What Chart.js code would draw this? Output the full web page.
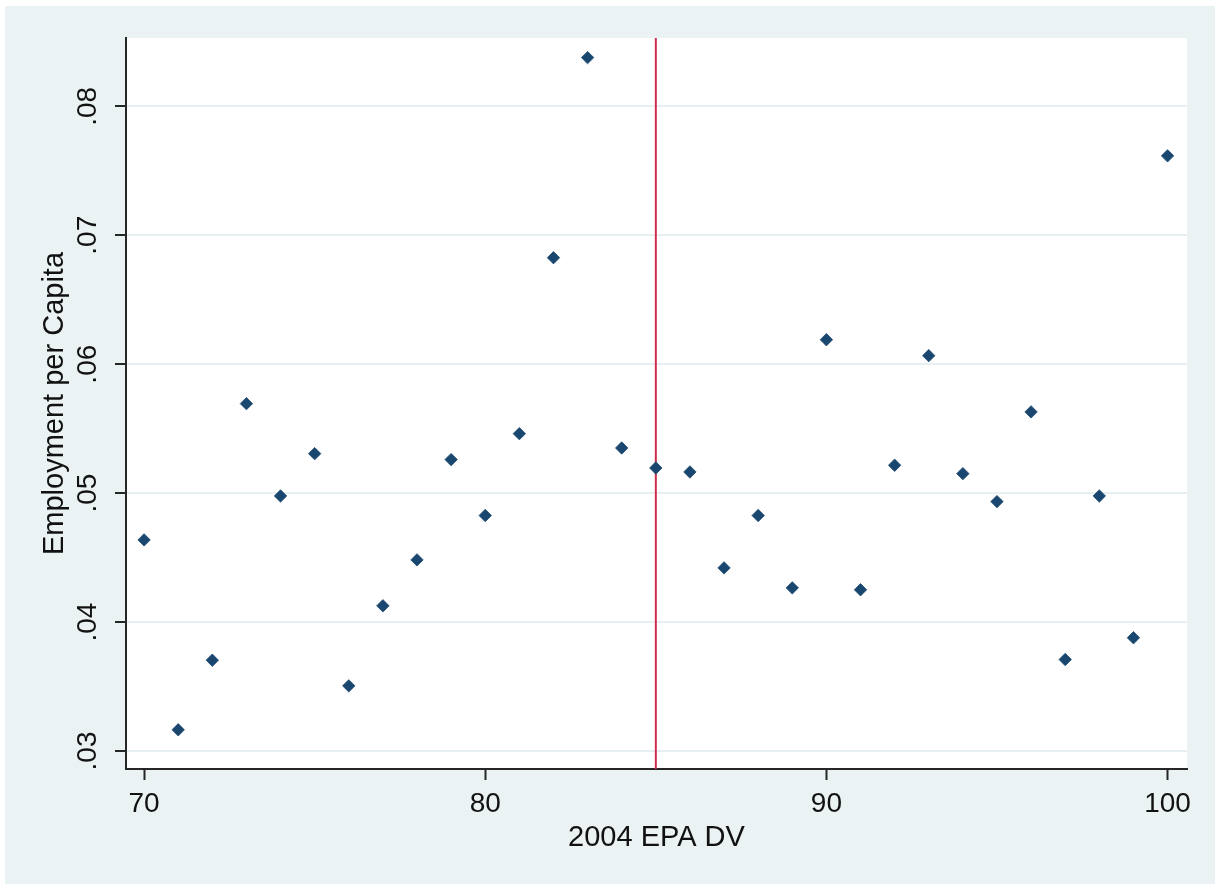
<!DOCTYPE html>
<html>
<head>
<meta charset="utf-8">
<title>Employment per Capita vs 2004 EPA DV</title>
<script src="https://cdn.jsdelivr.net/npm/chart.js@4"></script>
<style>
  html, body { margin: 0; padding: 0; background: #ffffff; }
  #wrap { position: absolute; left: 0; top: 0; width: 1215px; height: 884px; }
</style>
</head>
<body>
<div id="wrap"><canvas id="chart" width="1215" height="884"></canvas></div>
<script>
// 2004 EPA design value (x) and employment per capita (y)
const epaDV = [70, 71, 72, 73, 74, 75, 76, 77, 78, 79, 80, 81, 82, 83, 84, 85,
               86, 87, 88, 89, 90, 91, 92, 93, 94, 95, 96, 97, 98, 99, 100];
const employmentPerCapita = [
  0.04637, 0.03164, 0.03704, 0.05694, 0.04978, 0.05306, 0.03505, 0.04126,
  0.04482, 0.05260, 0.04826, 0.05461, 0.06826, 0.08378, 0.05350, 0.05195,
  0.05164, 0.04420, 0.04826, 0.04265, 0.06190, 0.04250, 0.05216, 0.06066,
  0.05151, 0.04934, 0.05630, 0.03709, 0.04978, 0.03878, 0.07616
];

// Threshold marked by the vertical reference line
const thresholdDV = 85;

// Axis ticks and their printed labels
const xTicks = [70, 80, 90, 100];
const xTickLabels = ['70', '80', '90', '100'];
const yTicks = [0.03, 0.04, 0.05, 0.06, 0.07, 0.08];
const yTickLabels = ['.03', '.04', '.05', '.06', '.07', '.08'];

// Axis ranges
const xRange = [69.47, 100.57];
const yRange = [0.0286, 0.0853];

const points = epaDV.map((x, i) => ({ x: x, y: employmentPerCapita[i] }));
const thresholdLine = [{ x: thresholdDV, y: yRange[0] }, { x: thresholdDV, y: yRange[1] }];

const FONT = "'Liberation Sans', Arial, 'DejaVu Sans', sans-serif";
const TEXT = '#111111';
const AXIS = '#262626';

const backgroundPlugin = {
  id: 'regionBackground',
  beforeDraw(chart) {
    const { ctx, chartArea, width, height } = chart;
    ctx.save();
    ctx.fillStyle = '#ffffff';
    ctx.fillRect(0, 0, width, height);
    ctx.fillStyle = '#EAF2F3';
    ctx.fillRect(5, 6, width - 5, height - 6);
    ctx.fillStyle = '#ffffff';
    ctx.fillRect(chartArea.left, chartArea.top,
                 chartArea.right - chartArea.left, chartArea.bottom - chartArea.top);
    ctx.restore();
  }
};

new Chart(document.getElementById('chart'), {
  type: 'scatter',
  data: {
    datasets: [
      {
        label: 'Employment per Capita',
        data: points,
        order: 0,
        pointStyle: 'rectRot',
        pointRadius: 6.2,
        pointHoverRadius: 6.2,
        pointBackgroundColor: '#1A476F',
        pointBorderColor: '#1A476F',
        pointBorderWidth: 0.8
      },
      {
        type: 'line',
        label: 'threshold',
        data: thresholdLine,
        order: 1,
        borderColor: '#CF2D4D',
        borderWidth: 2,
        pointRadius: 0,
        fill: false
      }
    ]
  },
  options: {
    responsive: false,
    animation: false,
    events: [],
    layout: { padding: { left: 0, top: 38, right: 28, bottom: 0 } },
    plugins: {
      legend: { display: false },
      tooltip: { enabled: false }
    },
    scales: {
      x: {
        type: 'linear',
        position: 'bottom',
        min: xRange[0],
        max: xRange[1],
        afterBuildTicks(scale) { scale.ticks = xTicks.map(v => ({ value: v })); },
        afterFit(scale) { scale.height = 115; },
        ticks: {
          autoSkip: false,
          maxRotation: 0,
          padding: 7,
          color: TEXT,
          font: { family: FONT, size: 28 },
          callback: (v) => xTickLabels[xTicks.indexOf(v)]
        },
        grid: {
          drawOnChartArea: false,
          drawTicks: true,
          tickLength: 11,
          tickColor: AXIS,
          tickWidth: 2
        },
        border: { display: true, color: AXIS, width: 2 },
        title: {
          display: true,
          text: '2004 EPA DV',
          color: TEXT,
          font: { family: FONT, size: 29 },
          padding: { top: 0, bottom: 29 }
        }
      },
      y: {
        type: 'linear',
        position: 'left',
        min: yRange[0],
        max: yRange[1],
        afterBuildTicks(scale) { scale.ticks = yTicks.map(v => ({ value: v })); },
        afterFit(scale) { scale.width = 126; },
        ticks: {
          autoSkip: false,
          minRotation: 90,
          maxRotation: 90,
          crossAlign: 'center',
          padding: 7.5,
          color: TEXT,
          font: { family: FONT, size: 28 },
          callback: (v) => yTickLabels[yTicks.indexOf(v)]
        },
        grid: {
          drawOnChartArea: true,
          color: '#E6EFF1',
          lineWidth: 2,
          drawTicks: true,
          tickLength: 11,
          tickColor: AXIS,
          tickWidth: 2
        },
        border: { display: true, color: AXIS, width: 2 },
        title: {
          display: true,
          text: 'Employment per Capita',
          color: TEXT,
          font: { family: FONT, size: 29 },
          padding: { top: 37.6, bottom: 0 }
        }
      }
    }
  },
  plugins: [backgroundPlugin]
});
</script>
</body>
</html>
